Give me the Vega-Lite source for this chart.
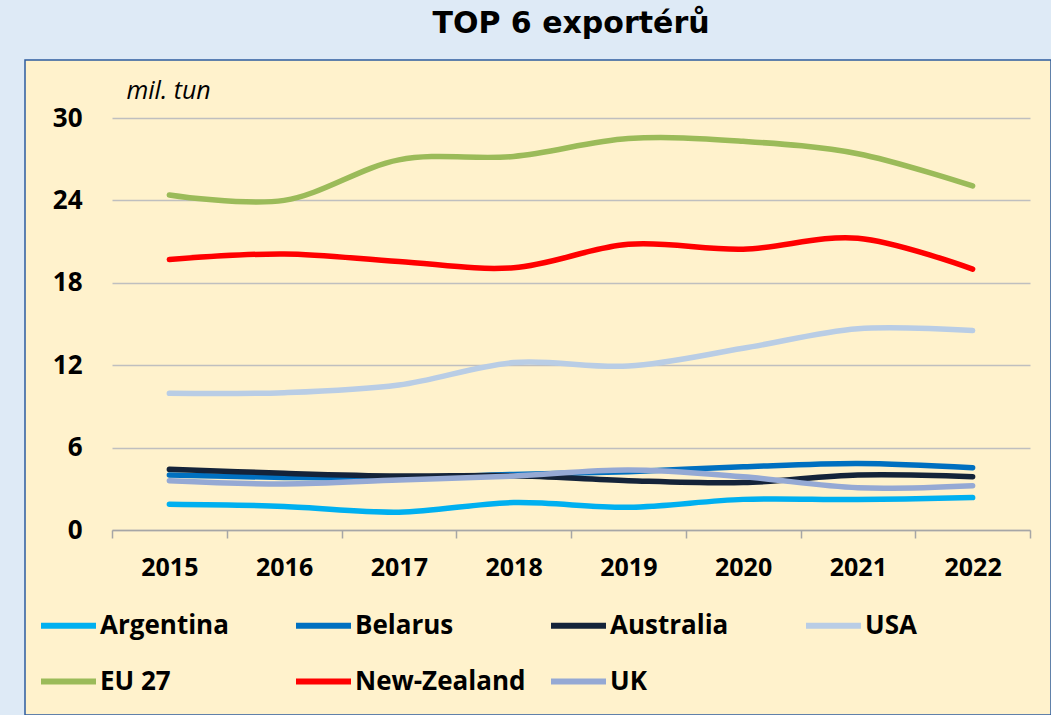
{
  "$schema": "https://vega.github.io/schema/vega-lite/v6.json",
  "width": 1026,
  "height": 655,
  "autosize": {"type": "none"},
  "padding": {"left": 25, "top": 60, "right": 0, "bottom": 0},
  "background": "#DEEAF6",
  "title": {"text": "TOP 6 exportérů", "font": "DejaVu Sans", "fontWeight": "bold", "fontSize": 30, "color": "#000000", "anchor": "middle", "dx": 33, "baseline": "alphabetic", "offset": -3},
  "config": {"view": {"fill": "#FFF2CC", "stroke": "#2E5C9E", "strokeWidth": 1.5}},
  "data": {"values": [
    {"year": "2015", "country": "Argentina", "value": 1.87},
    {"year": "2016", "country": "Argentina", "value": 1.72},
    {"year": "2017", "country": "Argentina", "value": 1.3},
    {"year": "2018", "country": "Argentina", "value": 2.0},
    {"year": "2019", "country": "Argentina", "value": 1.65},
    {"year": "2020", "country": "Argentina", "value": 2.23},
    {"year": "2021", "country": "Argentina", "value": 2.22},
    {"year": "2022", "country": "Argentina", "value": 2.36},
    {"year": "2015", "country": "Belarus", "value": 4.0},
    {"year": "2016", "country": "Belarus", "value": 3.83},
    {"year": "2017", "country": "Belarus", "value": 3.78},
    {"year": "2018", "country": "Belarus", "value": 4.05},
    {"year": "2019", "country": "Belarus", "value": 4.25},
    {"year": "2020", "country": "Belarus", "value": 4.6},
    {"year": "2021", "country": "Belarus", "value": 4.85},
    {"year": "2022", "country": "Belarus", "value": 4.54},
    {"year": "2015", "country": "Australia", "value": 4.42},
    {"year": "2016", "country": "Australia", "value": 4.13},
    {"year": "2017", "country": "Australia", "value": 3.93},
    {"year": "2018", "country": "Australia", "value": 3.95},
    {"year": "2019", "country": "Australia", "value": 3.59},
    {"year": "2020", "country": "Australia", "value": 3.45},
    {"year": "2021", "country": "Australia", "value": 4.0},
    {"year": "2022", "country": "Australia", "value": 3.88},
    {"year": "2015", "country": "USA", "value": 9.95},
    {"year": "2016", "country": "USA", "value": 10.0},
    {"year": "2017", "country": "USA", "value": 10.56},
    {"year": "2018", "country": "USA", "value": 12.19},
    {"year": "2019", "country": "USA", "value": 11.94},
    {"year": "2020", "country": "USA", "value": 13.23},
    {"year": "2021", "country": "USA", "value": 14.66},
    {"year": "2022", "country": "USA", "value": 14.52},
    {"year": "2015", "country": "EU 27", "value": 24.4},
    {"year": "2016", "country": "EU 27", "value": 24.0},
    {"year": "2017", "country": "EU 27", "value": 26.95},
    {"year": "2018", "country": "EU 27", "value": 27.2},
    {"year": "2019", "country": "EU 27", "value": 28.5},
    {"year": "2020", "country": "EU 27", "value": 28.3},
    {"year": "2021", "country": "EU 27", "value": 27.4},
    {"year": "2022", "country": "EU 27", "value": 25.05},
    {"year": "2015", "country": "New-Zealand", "value": 19.7},
    {"year": "2016", "country": "New-Zealand", "value": 20.1},
    {"year": "2017", "country": "New-Zealand", "value": 19.55},
    {"year": "2018", "country": "New-Zealand", "value": 19.1},
    {"year": "2019", "country": "New-Zealand", "value": 20.8},
    {"year": "2020", "country": "New-Zealand", "value": 20.45},
    {"year": "2021", "country": "New-Zealand", "value": 21.25},
    {"year": "2022", "country": "New-Zealand", "value": 19.0},
    {"year": "2015", "country": "UK", "value": 3.59},
    {"year": "2016", "country": "UK", "value": 3.35},
    {"year": "2017", "country": "UK", "value": 3.64},
    {"year": "2018", "country": "UK", "value": 3.93},
    {"year": "2019", "country": "UK", "value": 4.37},
    {"year": "2020", "country": "UK", "value": 3.88},
    {"year": "2021", "country": "UK", "value": 3.08},
    {"year": "2022", "country": "UK", "value": 3.23}
  ]},
  "mark": {"type": "line", "interpolate": "cardinal", "strokeWidth": 5.5, "strokeCap": "round", "strokeJoin": "round"},
  "encoding": {
    "x": {
      "field": "year", "type": "ordinal", "bandPosition": 0.5,
      "scale": {"type": "band", "range": [87, 1005], "paddingInner": 0, "paddingOuter": 0},
      "axis": {"orient": "bottom", "offset": -185, "tickBand": "extent", "domainColor": "#A6A6A6", "domainWidth": 1.5, "tickColor": "#A6A6A6", "tickWidth": 1.5, "tickSize": 8, "labelFont": "Open Sans", "labelFontWeight": "bold", "labelFontSize": 25, "labelColor": "#000000", "labelPadding": 17, "labelAngle": 0, "title": null, "grid": false}
    },
    "y": {
      "field": "value", "type": "quantitative",
      "scale": {"domain": [0, 30], "range": [470, 58], "nice": false, "zero": true},
      "axis": {"orient": "left", "offset": -87, "domain": false, "ticks": false, "tickSize": 0, "labelPadding": 30, "labelFont": "Open Sans", "labelFontWeight": "bold", "labelFontSize": 26, "labelColor": "#000000", "values": [0, 6, 12, 18, 24, 30], "grid": true, "gridColor": "#BFBFBF", "gridWidth": 1.3, "title": "mil. tun", "titleFont": "Open Sans", "titleFontStyle": "italic", "titleFontWeight": "normal", "titleFontSize": 25, "titleAngle": 0, "titleAlign": "left", "titleBaseline": "alphabetic", "titleX": 14, "titleY": 38, "titleColor": "#000000"}
    },
    "color": {
      "field": "country", "type": "nominal",
      "scale": {"domain": ["Argentina", "Belarus", "Australia", "USA", "EU 27", "New-Zealand", "UK"], "range": ["#00B0F0", "#0070C0", "#142339", "#B9CDE5", "#9BBB59", "#FF0000", "#95A9D4"]},
      "legend": {"orient": "none", "legendX": 13, "legendY": 535, "direction": "horizontal", "columns": 4, "gridAlign": "all", "columnPadding": 13, "rowPadding": 12, "symbolType": "stroke", "symbolSize": 3025, "symbolStrokeWidth": 6, "labelFont": "Open Sans", "labelFontWeight": "bold", "labelFontSize": 26, "labelColor": "#000000", "labelOffset": 1, "labelLimit": 0, "title": null, "padding": 0}
    }
  }
}
